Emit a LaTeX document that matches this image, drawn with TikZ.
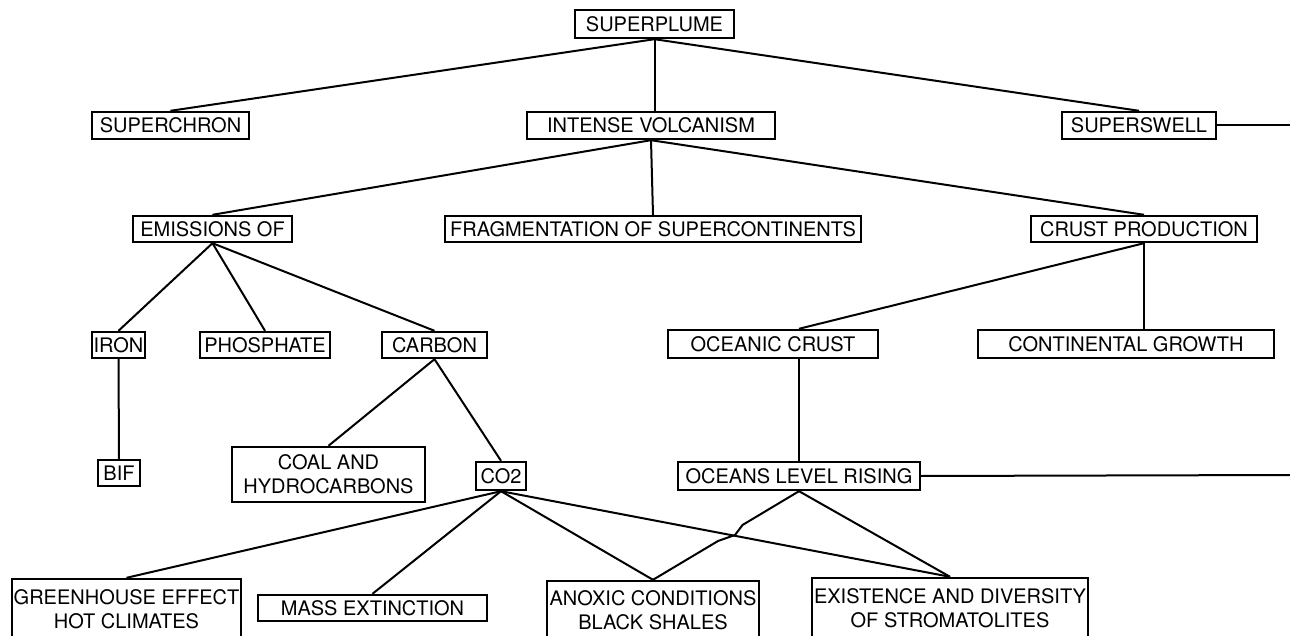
\documentclass[tikz,border=0pt]{standalone}
\usepackage{fontspec}
\setmainfont{TeX Gyre Heros}
\begin{document}
\begin{tikzpicture}[x=0.5pt,y=-0.5pt,
  bx/.style n args={2}{draw,line width=1.2pt,inner sep=0pt,align=center,
    minimum width=#1*0.5pt,minimum height=#2*0.5pt,
    font=\fontsize{10pt}{12pt}\selectfont},
  link/.style={line width=1pt,line join=round}]
\useasboundingbox (0,0) rectangle (1290,636);
\node[bx={159}{28}] (sp) at (654.5,24) {SUPERPLUME};
\node[bx={157}{27}] (sc) at (170.5,125.5) {SUPERCHRON};
\node[bx={248}{27}] (iv) at (651,125.5) {INTENSE VOLCANISM};
\node[bx={154}{27}] (ss) at (1139,125.5) {SUPERSWELL};
\node[bx={159}{26}] (em) at (212.5,229) {EMISSIONS OF};
\node[bx={416}{26}] (fr) at (653,229) {FRAGMENTATION OF SUPERCONTINENTS};
\node[bx={226}{26}] (cp) at (1144,229) {CRUST PRODUCTION};
\node[bx={53}{26}] (ir) at (118.5,345) {IRON};
\node[bx={130}{26}] (ph) at (265,345) {PHOSPHATE};
\node[bx={105}{26}] (ca) at (434.5,345) {CARBON};
\node[bx={210}{28}] (oc) at (773,344) {OCEANIC CRUST};
\node[bx={296}{28}] (cg) at (1126,344) {CONTINENTAL GROWTH};
\node[bx={42}{26}] (bif) at (119,473) {BIF};
\node[bx={193}{55}] (coal) at (328.5,474.5) {COAL AND\\HYDROCARBONS};
\node[bx={50}{28}] (co2) at (501,476) {CO2};
\node[bx={242}{28}] (ol) at (799,476) {OCEANS LEVEL RISING};
\node[bx={229}{60}] (gh) at (126.5,609) {GREENHOUSE EFFECT\\HOT CLIMATES};
\node[bx={229}{26}] (me) at (372.5,608) {MASS EXTINCTION};
\node[bx={212}{58}] (ax) at (653,610) {ANOXIC CONDITIONS\\BLACK SHALES};
\node[bx={276}{61}] (ex) at (950,608.5) {EXISTENCE AND DIVERSITY\\OF STROMATOLITES};
\coordinate (ssend) at (1290,125.5);
\coordinate (olend) at (1290,475);
\coordinate (j1) at (742.5,525);
\coordinate (j2) at (735,535);
\coordinate (j3) at (718,541);
\draw[link] (sp.south) -- (sc.north);
\draw[link] (sp.south) -- (sp.south |- iv.north);
\draw[link] (sp.south) -- (ss.north);
\draw[link] (ss.east) -- (ssend);
\draw[link] (iv.south) -- (em.north);
\draw[link] (iv.south) -- (fr.north);
\draw[link] (iv.south) -- (cp.north);
\draw[link] (em.south) -- (ir.north);
\draw[link] (em.south) -- (ph.north);
\draw[link] (em.south) -- (ca.north);
\draw[link] (ir.south) -- (bif.north);
\draw[link] (ca.south) -- (coal.north);
\draw[link] (ca.south) -- (co2.north);
\draw[link] (cp.south) -- (ol.north |- oc.north);
\draw[link] (cp.south) -- (cp.south |- cg.north);
\draw[link] (ol.north |- oc.south) -- (ol.north);
\draw[link] (ol.east) -- (olend);
\draw[link] (co2.south) -- (gh.north);
\draw[link] (co2.south) -- (me.north);
\draw[link] (co2.south) -- (ax.north);
\draw[link] (co2.south) -- (ex.north);
\draw[link] (ol.south) -- (j1) -- (j2) -- (j3) -- (ax.north);
\draw[link] (ol.south) -- (ex.north);
\end{tikzpicture}
\end{document}
